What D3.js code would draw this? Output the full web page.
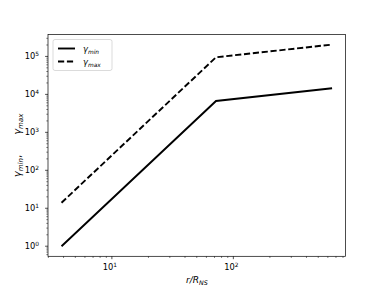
<!DOCTYPE html>
<html>
<head>
<meta charset="utf-8">
<script src="https://cdn.jsdelivr.net/npm/d3@7"></script>
<style>
  body { margin: 0; background: #fff; }
  svg { font-family: "DejaVu Sans", sans-serif; }
</style>
</head>
<body>
<svg id="chart" width="384" height="288"></svg>
<script>
// radius in units of R_NS
const radius = [3.85, 72, 650];
const gammaMin = [1, 6700, 14500];
const gammaMax = [14, 95000, 205000];
const xTicks = [10, 100];
const yTicks = [1, 10, 100, 1000, 10000, 100000];

const svg = d3.select("#chart");
const margin = { left: 48, right: 38.4, top: 34.5, bottom: 31.7 };
const width = 384, height = 288;

// matplotlib-like 5% padding in log space
function padLog(lo, hi) {
  const a = Math.log10(lo), b = Math.log10(hi), p = (b - a) * 0.05;
  return [Math.pow(10, a - p), Math.pow(10, b + p)];
}

const x = d3.scaleLog()
  .domain(padLog(d3.min(radius), d3.max(radius)))
  .range([margin.left, width - margin.right]);
const y = d3.scaleLog()
  .domain(padLog(d3.min(gammaMin), d3.max(gammaMax)))
  .range([height - margin.bottom, margin.top]);

const x0 = margin.left, x1 = width - margin.right;
const y0 = height - margin.bottom, y1 = margin.top;

// minor tick values
function minors(scale) {
  const [a, b] = scale.domain();
  const out = [];
  for (let e = Math.floor(Math.log10(a)); e <= Math.ceil(Math.log10(b)); e++) {
    for (let m = 2; m <= 9; m++) {
      const v = m * Math.pow(10, e);
      if (v >= a && v <= b) out.push(v);
    }
  }
  return out;
}

const line = d3.line().x(d => x(d[0])).y(d => y(d[1]));

svg.append("path")
  .datum(radius.map((r, i) => [r, gammaMin[i]]))
  .attr("d", line)
  .attr("fill", "none")
  .attr("stroke", "#000")
  .attr("stroke-width", 1.9);

svg.append("path")
  .datum(radius.map((r, i) => [r, gammaMax[i]]))
  .attr("d", line)
  .attr("fill", "none")
  .attr("stroke", "#000")
  .attr("stroke-width", 1.9)
  .attr("stroke-dasharray", "6.2,2.7");

// ticks
const tk = svg.append("g").attr("stroke", "#000").attr("stroke-width", 0.7);
tk.selectAll(".xmaj").data(xTicks).enter().append("line")
  .attr("x1", d => x(d)).attr("x2", d => x(d))
  .attr("y1", y0).attr("y2", y0 + 2.9);
tk.selectAll(".xmin").data(minors(x)).enter().append("line")
  .attr("x1", d => x(d)).attr("x2", d => x(d))
  .attr("y1", y0).attr("y2", y0 + 1.7)
  .attr("stroke-width", 0.5);
tk.selectAll(".ymaj").data(yTicks).enter().append("line")
  .attr("x1", x0 - 2.9).attr("x2", x0)
  .attr("y1", d => y(d)).attr("y2", d => y(d));
tk.selectAll(".ymin").data(minors(y)).enter().append("line")
  .attr("x1", x0 - 1.7).attr("x2", x0)
  .attr("y1", d => y(d)).attr("y2", d => y(d))
  .attr("stroke-width", 0.5);

// tick labels
function powLabel(sel) {
  sel.text("10");
  sel.append("tspan")
    .attr("dy", -3.6)
    .attr("font-size", 5.9)
    .text(d => Math.round(Math.log10(d)));
}
svg.selectAll(".xl").data(xTicks).enter().append("text")
  .attr("x", d => x(d) - 2)
  .attr("y", y0 + 14)
  .attr("text-anchor", "middle")
  .attr("font-size", 8.3)
  .each(function () { powLabel(d3.select(this)); });
svg.selectAll(".yl").data(yTicks).enter().append("text")
  .attr("x", x0 - 9)
  .attr("y", d => y(d) + 3)
  .attr("text-anchor", "end")
  .attr("font-size", 8.3)
  .each(function () { powLabel(d3.select(this)); });

// frame
svg.append("rect")
  .attr("x", x0).attr("y", y1)
  .attr("width", x1 - x0).attr("height", y0 - y1)
  .attr("fill", "none").attr("stroke", "#000").attr("stroke-width", 0.7);

// axis labels
const xl = svg.append("text")
  .attr("x", (x0 + x1) / 2).attr("y", 283)
  .attr("text-anchor", "middle").attr("font-size", 9)
  .attr("font-style", "italic");
xl.append("tspan").text("r/R");
xl.append("tspan").attr("dy", 2).attr("font-size", 6.3).text("NS");

const yl = svg.append("text")
  .attr("transform", `translate(21,${(y0 + y1) / 2}) rotate(-90)`)
  .attr("text-anchor", "middle").attr("font-size", 10)
  .attr("font-style", "italic");
yl.append("tspan").text("γ");
yl.append("tspan").attr("dy", 2.2).attr("font-size", 7).text("min");
yl.append("tspan").attr("dy", -2.2).attr("font-style", "normal").text(",\u2003\u2003");
yl.append("tspan").text("γ");
yl.append("tspan").attr("dy", 2.2).attr("font-size", 7).text("max");

// legend
const lg = svg.append("g").attr("transform", `translate(${x0 + 5},${y1 + 5})`);
lg.append("rect")
  .attr("width", 59).attr("height", 31).attr("rx", 2)
  .attr("fill", "#fff").attr("stroke", "#ccc").attr("stroke-width", 0.7);
const entries = [
  { name: "min", dash: null },
  { name: "max", dash: "6.2,2.7" }
];
entries.forEach((e, i) => {
  const cy = 9 + i * 13;
  lg.append("line")
    .attr("x1", 5).attr("x2", 22).attr("y1", cy).attr("y2", cy)
    .attr("stroke", "#000").attr("stroke-width", 1.9)
    .attr("stroke-dasharray", e.dash);
  const t = lg.append("text")
    .attr("x", 30).attr("y", cy + 3)
    .attr("font-size", 8.3).attr("font-style", "italic");
  t.append("tspan").text("γ");
  t.append("tspan").attr("dy", 2).attr("font-size", 5.9).text(e.name);
});
</script>
</body>
</html>
